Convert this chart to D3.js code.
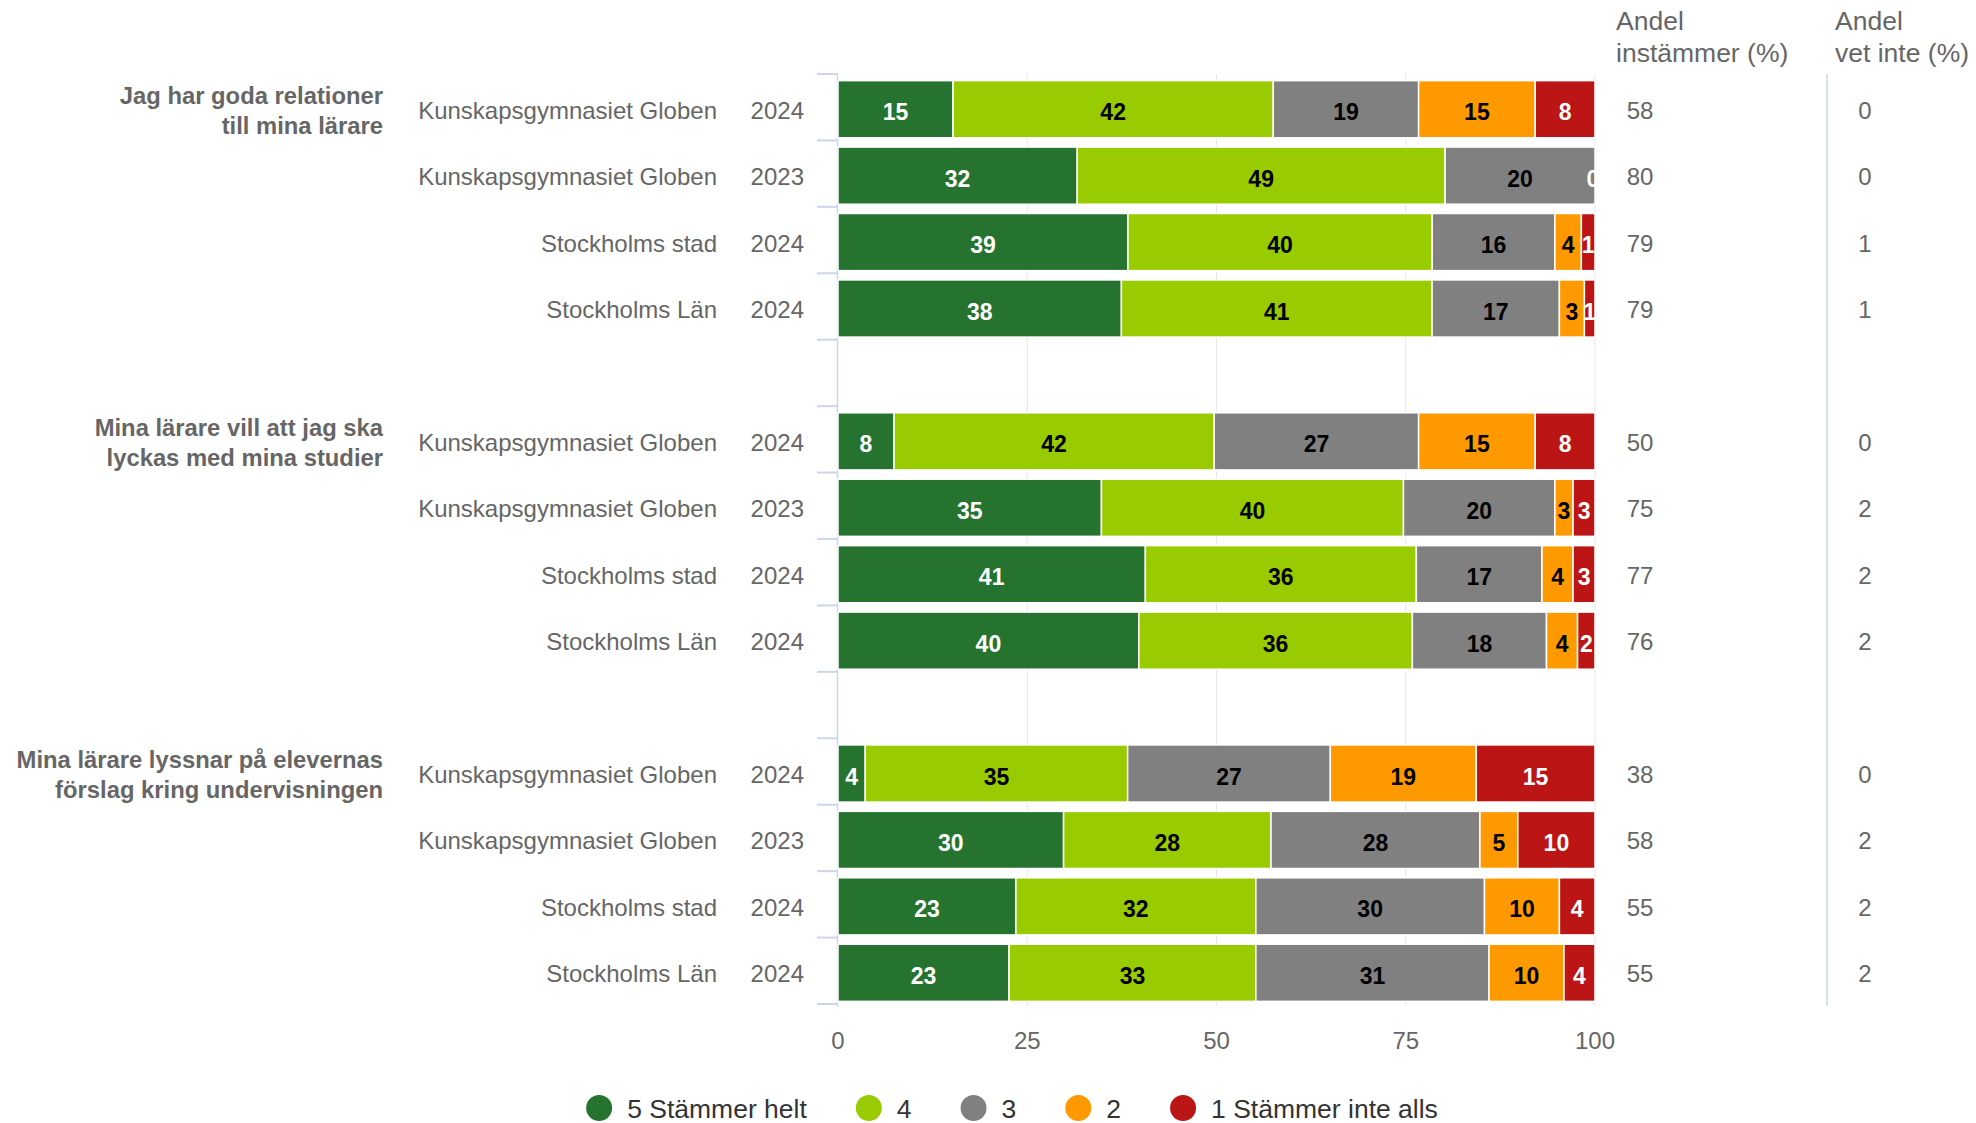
<!DOCTYPE html>
<html>
<head>
<meta charset="utf-8">
<script src="https://cdn.jsdelivr.net/npm/d3@7"></script>
<style>
  body { margin: 0; background: #fff; }
  svg { font-family: "Liberation Sans", Arial, sans-serif; }
</style>
</head>
<body>
<svg id="chart" width="1976" height="1123"></svg>
<script>
// questions (group labels), two lines each
const questions = [
    ["Jag har goda relationer", "till mina lärare"],
    ["Mina lärare vill att jag ska", "lyckas med mina studier"],
    ["Mina lärare lyssnar på elevernas", "förslag kring undervisningen"]
];
const units = ["Kunskapsgymnasiet Globen", "Kunskapsgymnasiet Globen", "Stockholms stad", "Stockholms Län"];
const years = ["2024", "2023", "2024", "2024"];

const seriesNames = ["5 Stämmer helt", "4", "3", "2", "1 Stämmer inte alls"];
const seriesColors = ["#267330", "#99cc00", "#808080", "#ff9900", "#bb1515"];
const labelColors = ["#ffffff", "#000000", "#000000", "#000000", "#ffffff"];

// bar shares (percent of row)
const share5 = [15.2, 31.6, 38.3, 37.4, 7.4, 34.8, 40.6, 39.7, 3.6, 29.8, 23.5, 22.6];
const share4 = [42.3, 48.6, 40.2, 41.0, 42.3, 39.9, 35.8, 36.1, 34.7, 27.4, 31.7, 32.6];
const share3 = [19.2, 19.8, 16.2, 16.8, 27.0, 20.0, 16.6, 17.7, 26.8, 27.6, 30.2, 30.8];
const share2 = [15.4, 0, 3.5, 3.3, 15.4, 2.4, 4.1, 4.1, 19.3, 5.0, 9.9, 9.9];
const share1 = [7.9, 0, 1.8, 1.4, 7.9, 2.9, 2.9, 2.3, 15.7, 10.2, 4.7, 4.1];

// printed data labels
const label5 = [15, 32, 39, 38, 8, 35, 41, 40, 4, 30, 23, 23];
const label4 = [42, 49, 40, 41, 42, 40, 36, 36, 35, 28, 32, 33];
const label3 = [19, 20, 16, 17, 27, 20, 17, 18, 27, 28, 30, 31];
const label2 = [15, 0, 4, 3, 15, 3, 4, 4, 19, 5, 10, 10];
const label1 = [8, 0, 1, 1, 8, 3, 3, 2, 15, 10, 4, 4];

const agree = [58, 80, 79, 79, 50, 75, 77, 76, 38, 58, 55, 55];
const dontKnow = [0, 0, 1, 1, 0, 2, 2, 2, 0, 2, 2, 2];

const xTicks = [0, 25, 50, 75, 100];

const svg = d3.select('#chart');
const plotLeft = 838, plotRight = 1595, plotTop = 76, plotBottom = 1006;
const textColor = '#666666';

// 14 slots: 4 rows per question + a blank slot between questions
const slots = d3.range(14);
const y = d3.scaleBand().domain(slots).range([plotTop, plotBottom]).paddingInner(0.14).paddingOuter(0.07);
const step = (plotBottom - plotTop) / 14;
const x = d3.scaleLinear().domain([0, 100]).range([plotLeft, plotRight]);

const rows = share5.map(function(d, i) {
    let g = Math.floor(i / 4), k = i % 4;
    let vals = [share5[i], share4[i], share3[i], share2[i], share1[i]];
    let labs = [label5[i], label4[i], label3[i], label2[i], label1[i]];
    let sum = d3.sum(vals);
    let acc = 0;
    let segs = vals.map(function(v, j) {
        let x0 = acc / sum * 100;
        acc += v;
        return { v: v, label: labs[j], j: j, x0: x0, x1: acc / sum * 100 };
    });
    return { i: i, g: g, k: k, slot: g * 5 + k, segs: segs };
});

// grid lines
svg.append('g').selectAll('line').data(xTicks.slice(1)).join('line')
    .attr('x1', d => x(d)).attr('x2', d => x(d))
    .attr('y1', plotTop - 2).attr('y2', plotBottom)
    .attr('stroke', '#e6e6e6').attr('stroke-width', 1);

// category axis line + ticks at slot boundaries
svg.append('line').attr('x1', plotLeft - 0.5).attr('x2', plotLeft - 0.5)
    .attr('y1', plotTop - 2).attr('y2', plotBottom + 1)
    .attr('stroke', '#ccd6eb').attr('stroke-width', 1.5);
svg.append('g').selectAll('line').data(d3.range(15)).join('line')
    .attr('x1', plotLeft - 21).attr('x2', plotLeft)
    .attr('y1', d => plotTop - 2 + d * step).attr('y2', d => plotTop - 2 + d * step)
    .attr('stroke', '#ccd6eb').attr('stroke-width', 2);

// bars
let bars = svg.append('g');
rows.forEach(function(r) {
    bars.selectAll(null).data(r.segs.filter(s => s.v > 0)).enter().append('rect')
        .attr('x', s => x(s.x0))
        .attr('y', y(r.slot))
        .attr('width', s => x(s.x1) - x(s.x0))
        .attr('height', y.bandwidth())
        .attr('fill', s => seriesColors[s.j])
        .attr('stroke', '#ffffff')
        .attr('stroke-width', 1.5);
});

// data labels, clipped to plot area
svg.append('clipPath').attr('id', 'plotclip').append('rect')
    .attr('x', plotLeft).attr('y', 0).attr('width', plotRight - plotLeft).attr('height', 1123);
let labels = svg.append('g').attr('clip-path', 'url(#plotclip)');
rows.forEach(function(r) {
    // overlapping labels: keep only the last one
    let keep = r.segs.filter(function(s, idx) {
        let cx = (s.x0 + s.x1) / 2;
        return !r.segs.slice(idx + 1).some(o => Math.abs((o.x0 + o.x1) / 2 - cx) < 0.5);
    });
    labels.selectAll(null).data(keep).enter().append('text')
        .attr('x', s => x((s.x0 + s.x1) / 2) - (s.x1 - s.x0 < 0.5 ? 2 : 0))
        .attr('y', y(r.slot) + y.bandwidth() / 2 + 3)
        .attr('text-anchor', 'middle')
        .attr('dominant-baseline', 'central')
        .attr('font-size', 23).attr('font-weight', 'bold')
        .attr('fill', s => labelColors[s.j])
        .text(s => s.label);
});

// row labels: unit, year and the two value columns
let rowLabels = svg.append('g').attr('font-size', 24).attr('fill', textColor);
rows.forEach(function(r) {
    let cy = y(r.slot) + y.bandwidth() / 2 + 1;
    rowLabels.append('text').attr('x', 717).attr('y', cy)
        .attr('text-anchor', 'end').attr('dominant-baseline', 'central').text(units[r.k]);
    rowLabels.append('text').attr('x', 804).attr('y', cy)
        .attr('text-anchor', 'end').attr('dominant-baseline', 'central').text(years[r.k]);
    rowLabels.append('text').attr('x', 1640).attr('y', cy)
        .attr('text-anchor', 'middle').attr('dominant-baseline', 'central').text(agree[r.i]);
    rowLabels.append('text').attr('x', 1865).attr('y', cy)
        .attr('text-anchor', 'middle').attr('dominant-baseline', 'central').text(dontKnow[r.i]);
});

// question labels
questions.forEach(function(q, g) {
    let cy = y(g * 5) + y.bandwidth() / 2 + 1;
    let t = svg.append('text').attr('x', 383).attr('y', cy)
        .attr('text-anchor', 'end').attr('font-size', 23.8).attr('font-weight', 'bold')
        .attr('fill', textColor);
    q.forEach(function(line, li) {
        t.append('tspan').attr('x', 383).attr('y', cy + (li === 0 ? -15 : 15))
            .attr('dominant-baseline', 'central').text(line);
    });
});

// column headers
const headers = [["Andel", "instämmer (%)"], ["Andel", "vet inte (%)"]];
const headerX = [1616, 1835];
headers.forEach(function(h, c) {
    h.forEach(function(line, li) {
        svg.append('text').attr('x', headerX[c]).attr('y', 21 + li * 32)
            .attr('dominant-baseline', 'central')
            .attr('font-size', 26.5).attr('fill', textColor).text(line);
    });
});
svg.append('line').attr('x1', 1827).attr('x2', 1827).attr('y1', plotTop - 2).attr('y2', plotBottom)
    .attr('stroke', '#ccd6eb').attr('stroke-width', 1.5);

// x axis labels
svg.append('g').selectAll('text').data(xTicks).join('text')
    .attr('x', d => x(d)).attr('y', 1040)
    .attr('text-anchor', 'middle').attr('dominant-baseline', 'central')
    .attr('font-size', 24).attr('fill', textColor).text(d => d);

// legend
let legend = svg.append('g');
let lx = 0;
seriesNames.forEach(function(name, j) {
    let item = legend.append('g').attr('transform', `translate(${lx},0)`);
    item.append('circle').attr('cx', 0).attr('cy', 0).attr('r', 13).attr('fill', seriesColors[j]);
    let t = item.append('text').attr('x', 28).attr('y', 1)
        .attr('dominant-baseline', 'central')
        .attr('font-size', 26.5).attr('fill', '#333333').text(name);
    lx += 28 + t.node().getComputedTextLength() + 62;
});
let legendW = lx - 62 + 13;
legend.attr('transform', `translate(${1012 - legendW / 2 + 13},1108)`);
</script>
</body>
</html>
